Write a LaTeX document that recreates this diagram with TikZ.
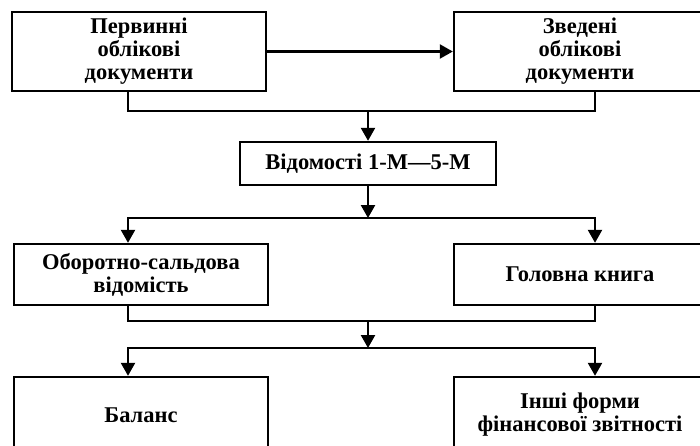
\documentclass[tikz,border=0pt]{standalone}
\usepackage{fontspec}
\setmainfont{Liberation Serif}
\usetikzlibrary{arrows.meta}
\begin{document}
\begin{tikzpicture}[x=1pt,y=-1pt,
		block/.style={shape=rectangle,draw=black,line width=2.4pt,fill=white,align=center,inner sep=0pt,
			font=\bfseries\fontsize{22.5}{23}\selectfont},
		link/.style={line width=2.4pt},
		arrow/.style={link,-{Triangle[length=13pt,width=14pt]}}]
		\clip (0,0) rectangle (700,445);
		\coordinate (lx) at (128,0);
		\coordinate (rx) at (595,0);

		\node[block,minimum width=254pt,minimum height=79pt] (perv) at (139,51.5) {Первинні\\облікові\\документи};
		\node[block,minimum width=252pt,minimum height=79pt] (zved) at (580,51.5) {Зведені\\облікові\\документи};
		\node[block,minimum width=256pt,minimum height=43pt] (vid) at (368,163.5) {Відомості 1-М—5-М};
		\node[block,minimum width=254pt,minimum height=61pt] (obor) at (141,274.5) {Оборотно-сальдова\\відомість};
		\node[block,minimum width=252pt,minimum height=61pt] (hol) at (580,274.5) {Головна книга};
		\node[block,minimum width=254pt,minimum height=76pt] (bal) at (141,415) {Баланс};
		\node[block,minimum width=252pt,minimum height=76pt] (insh) at (580,415) {Інші форми\\фінансової звітності};

		\coordinate (j1) at (368,111);
		\coordinate (j2) at (368,218);
		\coordinate (j3) at (368,321);
		\coordinate (j4) at (368,348);

		\draw[arrow] (perv) -- (zved);
		\draw[link] (perv.south -| lx) |- (j1) -| (zved.south -| rx);
		\draw[arrow] (j1) -- (vid);
		\draw[arrow] (vid) -- (j2);
		\draw[arrow] (j2) -| (obor.north -| lx);
		\draw[arrow] (j2) -| (hol.north -| rx);
		\draw[link] (obor.south -| lx) |- (j3) -| (hol.south -| rx);
		\draw[arrow] (j3) -- (j4);
		\draw[arrow] (j4) -| (bal.north -| lx);
		\draw[arrow] (j4) -| (insh.north -| rx);
		\end{tikzpicture}
\end{document}
